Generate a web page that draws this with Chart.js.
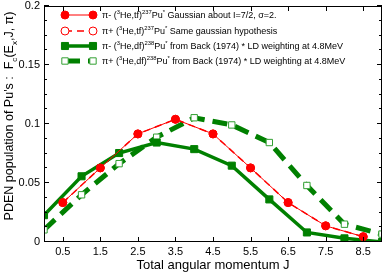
<!DOCTYPE html>
<html>
<head>
<meta charset="utf-8">
<script src="https://cdn.jsdelivr.net/npm/chart.js@4.4.0/dist/chart.umd.min.js"></script>
<style>html,body{margin:0;padding:0;background:#fff}</style>
</head>
<body>
<canvas id="myChart" width="388" height="273"></canvas>
<script>
// Daten
const jHalf = [0.5, 1.5, 2.5, 3.5, 4.5, 5.5, 6.5, 7.5, 8.5];
const jInt = [0, 1, 2, 3, 4, 5, 6, 7, 8, 9];
const piMinus237 = [0.0334, 0.0628, 0.0916, 0.104, 0.0916, 0.0628, 0.0334, 0.0137, 0.0045];
const piPlus237 = [0.0334, 0.0628, 0.0916, 0.104, 0.0916, 0.0628, 0.0334, 0.0137, 0.0045];
const piMinus238 = [0.0227, 0.0557, 0.0754, 0.0843, 0.0787, 0.0647, 0.0361, 0.0081, 0.0031, 0.0];
const piPlus238 = [0.0103, 0.040, 0.0664, 0.0888, 0.1053, 0.0992, 0.0843, 0.0479, 0.0151, 0.0067];
const xTicks = [0.5, 1.5, 2.5, 3.5, 4.5, 5.5, 6.5, 7.5, 8.5];
const yTicks = [0, 0.05, 0.1, 0.15, 0.2];
const yMinorStep = 0.0125;
const legendLabels = [
    'π- (^{3}He,tf)^{237}Pu^{*} Gaussian about I=7/2, σ=2.',
    'π+ (^{3}He,tf)^{237}Pu^{*} Same gaussian hypothesis',
    'π- (^{3}He,df)^{238}Pu^{*} from Back (1974) * LD weighting at 4.8MeV',
    'π+ (^{3}He,df)^{238}Pu^{*} from Back (1974) * LD weighting at 4.8MeV'
];
const xTitle = 'Total angular momentum J';
const yTitle = "PDEN population of Pu's :  F_{c}(E_{x},J, π)";

const FONT = '"Liberation Sans", Arial, sans-serif';
const red = '#ff0000';
const green = '#008000';

// Text mit Hoch- und Tiefstellung zeichnen
function drawRich(ctx, str, x, y, size) {
    const parts = [];
    const re = /(\^|_)\{([^}]*)\}/g;
    let last = 0, m;
    while ((m = re.exec(str)) !== null) {
        if (m.index > last) parts.push({t: str.slice(last, m.index), k: ''});
        parts.push({t: m[2], k: m[1]});
        last = re.lastIndex;
    }
    if (last < str.length) parts.push({t: str.slice(last), k: ''});
    let cx = x;
    parts.forEach(p => {
        const s = p.k ? size * 0.65 : size;
        ctx.font = s + 'px ' + FONT;
        let dy = 0;
        if (p.k === '^') dy = -size * 0.42;
        if (p.k === '_') dy = size * 0.28;
        ctx.fillText(p.t, cx, y + dy);
        cx += ctx.measureText(p.t).width;
    });
    return cx - x;
}

function richWidth(ctx, str, size) {
    ctx.save();
    ctx.globalAlpha = 0;
    const w = drawRich(ctx, str, 0, 0, size);
    ctx.restore();
    return w;
}

// Legendenzeile -> Datensatz
const legendOrder = [0, 2, 1, 3];

const frameAndLegend = {
    id: 'frameAndLegend',
    afterDraw(chart) {
        const ctx = chart.ctx;
        const a = chart.chartArea;
        const xs = chart.scales.x, ys = chart.scales.y;
        ctx.save();
        ctx.strokeStyle = '#000';
        ctx.lineWidth = 1;
        ctx.strokeRect(a.left + 0.5, a.top + 0.5, a.right - a.left - 1, a.bottom - a.top - 1);
        // Ticks nach innen
        ctx.beginPath();
        xTicks.forEach(v => {
            const px = Math.round(xs.getPixelForValue(v)) + 0.5;
            ctx.moveTo(px, a.bottom); ctx.lineTo(px, a.bottom - 5);
            ctx.moveTo(px, a.top); ctx.lineTo(px, a.top + 5);
        });
        for (let v = 0; v <= 0.2 + 1e-9; v += yMinorStep) {
            const major = Math.abs(v / 0.05 - Math.round(v / 0.05)) < 1e-6;
            const len = major ? 5 : 3;
            const py = Math.round(ys.getPixelForValue(v)) - 0.5;
            ctx.moveTo(a.left, py); ctx.lineTo(a.left + len, py);
            ctx.moveTo(a.right, py); ctx.lineTo(a.right - len, py);
        }
        ctx.stroke();

        // Legende
        const ds = chart.data.datasets;
        const rows = [15, 31, 46, 61];
        ctx.textBaseline = 'middle';
        rows.forEach((ry, i) => {
            const d = ds[legendOrder[i]];
            ctx.save();
            ctx.strokeStyle = d.borderColor;
            ctx.lineWidth = d.borderWidth;
            ctx.setLineDash(d.borderDash || []);
            ctx.beginPath();
            ctx.moveTo(65, ry); ctx.lineTo(93, ry);
            ctx.stroke();
            ctx.setLineDash([]);
            [65, 93].forEach(px => {
                ctx.fillStyle = d.pointBackgroundColor;
                ctx.strokeStyle = d.pointBorderColor;
                ctx.lineWidth = d.pointBorderWidth;
                ctx.beginPath();
                if (d.pointStyle === 'circle') {
                    ctx.arc(px, ry, d.pointRadius, 0, Math.PI * 2);
                } else {
                    const s = d.pointRadius * Math.SQRT1_2;
                    ctx.rect(px - s, ry - s, 2 * s, 2 * s);
                }
                ctx.fill();
                ctx.stroke();
            });
            ctx.restore();
            ctx.fillStyle = '#000';
            drawRich(ctx, legendLabels[i], 102, ry + 1, 9);
        });

        // y-Achsentitel
        ctx.save();
        ctx.translate(13, 116);
        ctx.rotate(-Math.PI / 2);
        ctx.fillStyle = '#000';
        ctx.textBaseline = 'alphabetic';
        const w = richWidth(ctx, yTitle, 12.5);
        drawRich(ctx, yTitle, -w / 2, 0, 12.5);
        ctx.restore();
        ctx.restore();
    }
};

function lineSet(xv, yv, opts) {
    return Object.assign({
        data: xv.map((x, i) => ({x: x, y: yv[i]})),
        fill: false,
        tension: 0
    }, opts);
}

const ctx = document.getElementById('myChart').getContext('2d');
new Chart(ctx, {
    type: 'line',
    data: {
        datasets: [
            lineSet(jHalf, piMinus237, {
                borderColor: red, borderWidth: 1,
                pointStyle: 'circle', pointRadius: 4,
                pointBackgroundColor: red, pointBorderColor: red, pointBorderWidth: 1
            }),
            lineSet(jInt, piMinus238, {
                borderColor: green, borderWidth: 3.5,
                pointStyle: 'rect', pointRadius: 5,
                pointBackgroundColor: green, pointBorderColor: green, pointBorderWidth: 1
            }),
            lineSet(jHalf, piPlus237, {
                borderColor: red, borderWidth: 1.5, borderDash: [7, 5],
                pointStyle: 'circle', pointRadius: 4,
                pointBackgroundColor: '#fff', pointBorderColor: red, pointBorderWidth: 1
            }),
            lineSet(jInt, piPlus238, {
                borderColor: green, borderWidth: 5, borderDash: [15, 8],
                pointStyle: 'rect', pointRadius: 4.5,
                pointBackgroundColor: '#fff', pointBorderColor: '#33a033', pointBorderWidth: 1
            })
        ]
    },
    options: {
        responsive: false,
        animation: false,
        layout: {padding: {top: 5, right: 1, left: 0, bottom: 0}},
        plugins: {legend: {display: false}, tooltip: {enabled: false}},
        scales: {
            x: {
                type: 'linear', min: 0, max: 9,
                afterBuildTicks: s => { s.ticks = xTicks.map(v => ({value: v})); },
                afterFit: s => { s.height = 31; s.paddingLeft = 0; s.paddingRight = 0; },
                grid: {display: false, drawTicks: false},
                border: {display: false},
                ticks: {
                    color: '#000', padding: 3, maxRotation: 0, autoSkip: false,
                    font: {family: FONT, size: 11},
                    callback: v => String(v)
                },
                title: {
                    display: true, text: xTitle, color: '#000',
                    font: {family: FONT, size: 13}, padding: {top: 0, bottom: 0}
                }
            },
            y: {
                min: 0, max: 0.2,
                afterBuildTicks: s => { s.ticks = yTicks.map(v => ({value: v})); },
                afterFit: s => { s.width = 44; s.paddingTop = 0; s.paddingBottom = 0; },
                grid: {display: false, drawTicks: false},
                border: {display: false},
                ticks: {
                    color: '#000', padding: 4,
                    font: {family: FONT, size: 11},
                    callback: v => String(Math.round(v * 100) / 100)
                }
            }
        }
    },
    plugins: [frameAndLegend]
});
</script>
</body>
</html>
